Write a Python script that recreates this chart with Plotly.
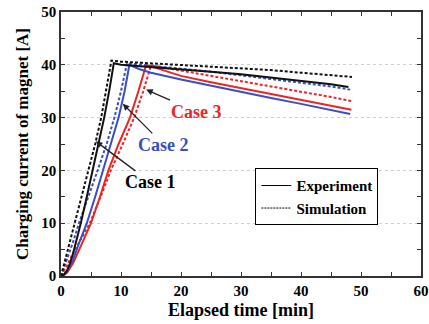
import plotly.graph_objects as go

# ---- data ----
t_sim1 = [0, 1, 2.3, 3.5, 4.6, 5.7, 6.7, 7.6, 8.4,
          10, 15, 20, 25, 30, 35, 40, 45, 48.5]
i_sim1 = [0, 4.4, 10, 15, 20, 25, 30, 35.5, 40.8,
          40.6, 40.3, 40.0, 39.7, 39.4, 39.0, 38.5, 38.0, 37.7]

t_exp1 = [0, 0.5, 1, 1.5, 2, 2.6, 3.3, 4.3, 5.3, 6.3, 7.2, 8.1, 8.8,
          10, 15, 20, 25, 30, 35, 40, 45, 47.9]
i_exp1 = [0, 0.3, 1.0, 2.4, 4.2, 6.8, 10, 15, 20, 25, 30, 35.5, 40.3,
          40.0, 39.6, 39.2, 38.7, 38.2, 37.6, 37.0, 36.3, 35.8]

t_sim2 = [0, 1, 2, 3.0, 4.6, 6.1, 7.6, 8.9, 10.0, 11.0,
          15, 20, 25, 30, 35, 40, 45, 48.2]
i_sim2 = [0, 3.0, 6.4, 10, 15, 20, 25, 30, 35, 40.3,
          39.8, 39.3, 38.7, 38.0, 37.3, 36.6, 35.9, 35.3]

t_exp2 = [0, 0.5, 1, 2, 3, 4.3, 5.7, 7.0, 8.3, 9.6, 10.6, 11.4,
          13, 15, 20, 25, 30, 35, 40, 45, 48.2]
i_exp2 = [0, 0.2, 0.8, 3.0, 6.2, 10, 15, 20, 25, 30, 35, 40.0,
          39.2, 38.5, 37.2, 36.0, 34.8, 33.7, 32.6, 31.5, 30.7]

t_sim3 = [0, 1, 2, 3.3, 4.8, 6.6, 8.3, 10.3, 12.2, 13.7, 15.0,
          17, 20, 25, 30, 35, 40, 45, 48.5]
i_sim3 = [0, 2.0, 4.3, 7, 10, 15, 20, 25, 30, 35, 39.9,
          39.5, 38.9, 38.0, 37.0, 35.9, 34.9, 33.9, 33.1]

t_exp3 = [0, 0.5, 1, 2, 3, 4, 5.0, 6.5, 7.9, 9.6, 11.5, 12.9, 14.2,
          15, 20, 25, 30, 35, 40, 45, 48.4]
i_exp3 = [0, 0.2, 0.6, 2.4, 4.9, 7.5, 10, 15, 20, 25, 30, 35, 40.0,
          39.7, 37.9, 36.7, 35.6, 34.5, 33.4, 32.3, 31.5]

x_ticks = [0, 10, 20, 30, 40, 50, 60]
y_ticks = [0, 10, 20, 30, 40, 50]

BLACK = "#111111"
BLUE = "#3a4fbf"
RED = "#ee2424"
FONT = "Times New Roman, Liberation Serif, serif"
DASH = "3px,2px"

fig = go.Figure()

def add(t, i, color, dash):
    fig.add_trace(go.Scatter(x=t, y=i, mode="lines", showlegend=False,
                             line=dict(color=color, width=2, dash=dash)))

add(t_exp3, i_exp3, RED, "solid")
add(t_sim3, i_sim3, RED, DASH)
add(t_exp2, i_exp2, BLUE, "solid")
add(t_sim2, i_sim2, BLUE, DASH)
add(t_exp1, i_exp1, BLACK, "solid")
add(t_sim1, i_sim1, BLACK, DASH)

# legend entries
fig.add_trace(go.Scatter(x=[None], y=[None], mode="lines", name="Experiment",
                         line=dict(color="black", width=1)))
fig.add_trace(go.Scatter(x=[None], y=[None], mode="lines", name="Simulation",
                         line=dict(color="black", width=1, dash="2px,1px")))

tickfont = dict(family=FONT, size=15, color="black", weight="bold")

fig.update_xaxes(range=[0, 60], tickvals=x_ticks, showgrid=False, zeroline=False,
                 showline=True, linecolor="#333", linewidth=1.5, mirror="allticks",
                 ticks="inside", ticklen=4, tickwidth=1.2, tickcolor="#333",
                 minor=dict(dtick=5, ticks="inside", ticklen=4, tickwidth=1.2, tickcolor="#333"),
                 tickfont=tickfont, automargin=False,
                 title=dict(text="Elapsed time [min]", standoff=6,
                            font=dict(family=FONT, size=18, color="black", weight="bold")))
fig.update_yaxes(range=[0, 50], tickvals=y_ticks, showgrid=True, gridcolor="#d0d0d0",
                 griddash="dot", gridwidth=1, zeroline=False,
                 showline=True, linecolor="#333", linewidth=1.5, mirror="allticks",
                 ticks="inside", ticklen=4, tickwidth=1.2, tickcolor="#333",
                 minor=dict(dtick=5, ticks="inside", ticklen=4, tickwidth=1.2, tickcolor="#333"),
                 tickfont=tickfont, automargin=False,
                 title=dict(text="Charging current of magnet [A]", standoff=8,
                            font=dict(family=FONT, size=17, color="black", weight="bold")))

ann_font = dict(family=FONT, size=18, weight="bold")
fig.add_annotation(x=5.8, y=25.5, ax=55, ay=41, text="Case 1", showarrow=True,
                   arrowhead=2, arrowsize=1, arrowwidth=1.3, arrowcolor="#222",
                   font=dict(ann_font, color="black"))
fig.add_annotation(x=10.3, y=32.6, ax=41, ay=41, text="Case 2", showarrow=True,
                   arrowhead=2, arrowsize=1, arrowwidth=1.3, arrowcolor="#222",
                   font=dict(ann_font, color=BLUE))
fig.add_annotation(x=14.2, y=35.3, ax=50, ay=22, text="Case 3", showarrow=True,
                   arrowhead=2, arrowsize=1, arrowwidth=1.3, arrowcolor="#222",
                   font=dict(ann_font, color=RED))

fig.update_layout(
    width=429, height=324,
    margin=dict(l=61, r=8, t=12, b=48),
    paper_bgcolor="white", plot_bgcolor="white",
    showlegend=True,
    legend=dict(x=0.54, y=0.408, xanchor="left", yanchor="top",
                bgcolor="white", bordercolor="black", borderwidth=1,
                font=dict(family=FONT, size=15, color="black", weight="bold"),
                tracegroupgap=0, itemwidth=30),
)

fig.write_html("out.html")
